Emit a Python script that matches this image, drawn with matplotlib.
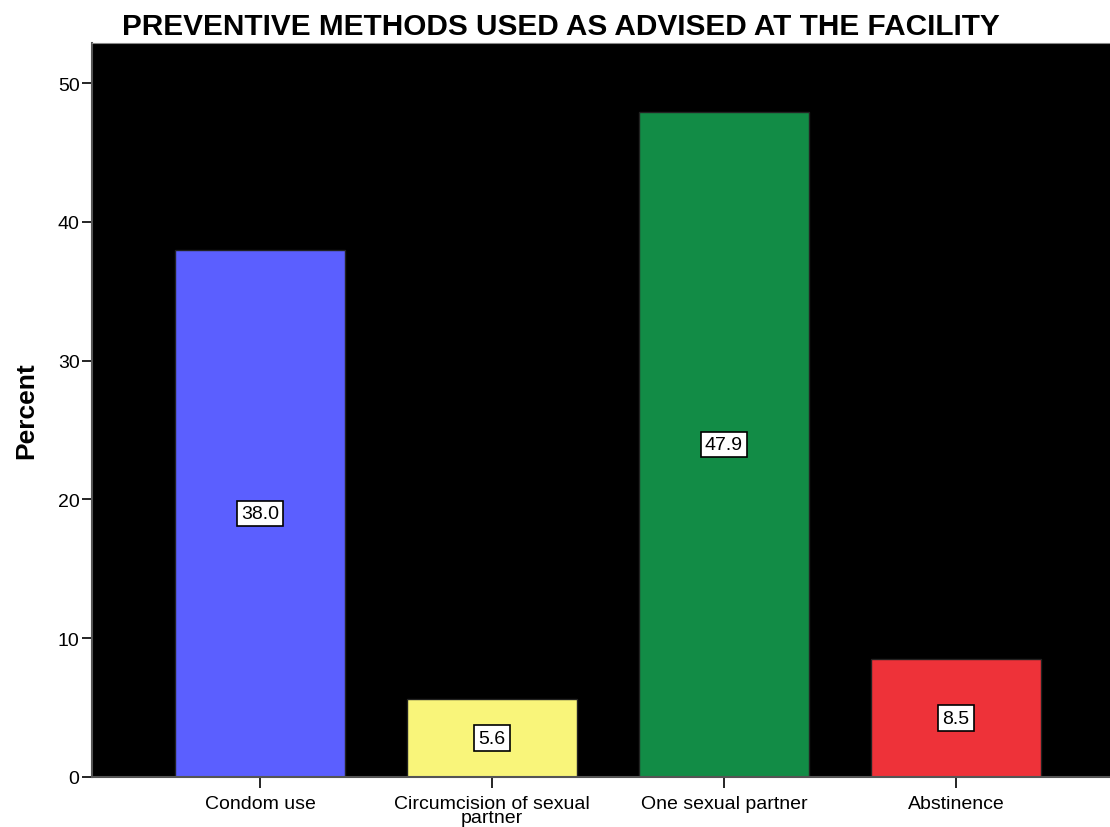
import matplotlib.pyplot as plt

plt.rcParams['font.family'] = ['Liberation Sans', 'DejaVu Sans']

methods = ['Condom use', 'Circumcision of sexual\npartner', 'One sexual partner', 'Abstinence']
percent = [38.0, 5.6, 47.9, 8.5]
colors = ['#5b5fff', '#f9f57a', '#128c46', '#ee3239']

fig = plt.figure(figsize=(11.1, 8.28), dpi=100)
ax = fig.add_axes([92/1110, 50/828, 1 - 92/1110, 734/828])
ax.set_facecolor('black')

x = range(len(methods))
ax.bar(x, percent, width=0.733, color=colors, edgecolor='#222222', linewidth=1)

# value boxes in the middle of each bar
for xi, v in zip(x, percent):
    ax.text(xi, v / 2, '%.1f' % v, ha='center', va='center', fontsize=14,
            bbox=dict(boxstyle='square,pad=0.22', facecolor='white', edgecolor='black', linewidth=1.2))

ax.set_xlim(-0.724, 3.664)
ax.set_ylim(0, 52.9)
ax.set_yticks([0, 10, 20, 30, 40, 50])
ax.set_xticks(list(x))
ax.set_xticklabels(methods, fontsize=14, linespacing=0.8)
ax.tick_params(axis='y', labelsize=14, length=7, width=1.2, pad=2)
ax.tick_params(axis='x', length=8, width=1.2, pad=5)

for s in ['left', 'bottom']:
    ax.spines[s].set_color('#555555')
    ax.spines[s].set_linewidth(1.5)
ax.spines['top'].set_color('#888888')
ax.spines['right'].set_visible(False)

ax.set_ylabel('Percent', fontsize=19, fontweight='bold', labelpad=14)
fig.text(561/1110, 1 - 27/828, 'PREVENTIVE METHODS USED AS ADVISED AT THE FACILITY',
         ha='center', va='center', fontsize=21.4, fontweight='bold')

fig.savefig('out.png', dpi=100)
